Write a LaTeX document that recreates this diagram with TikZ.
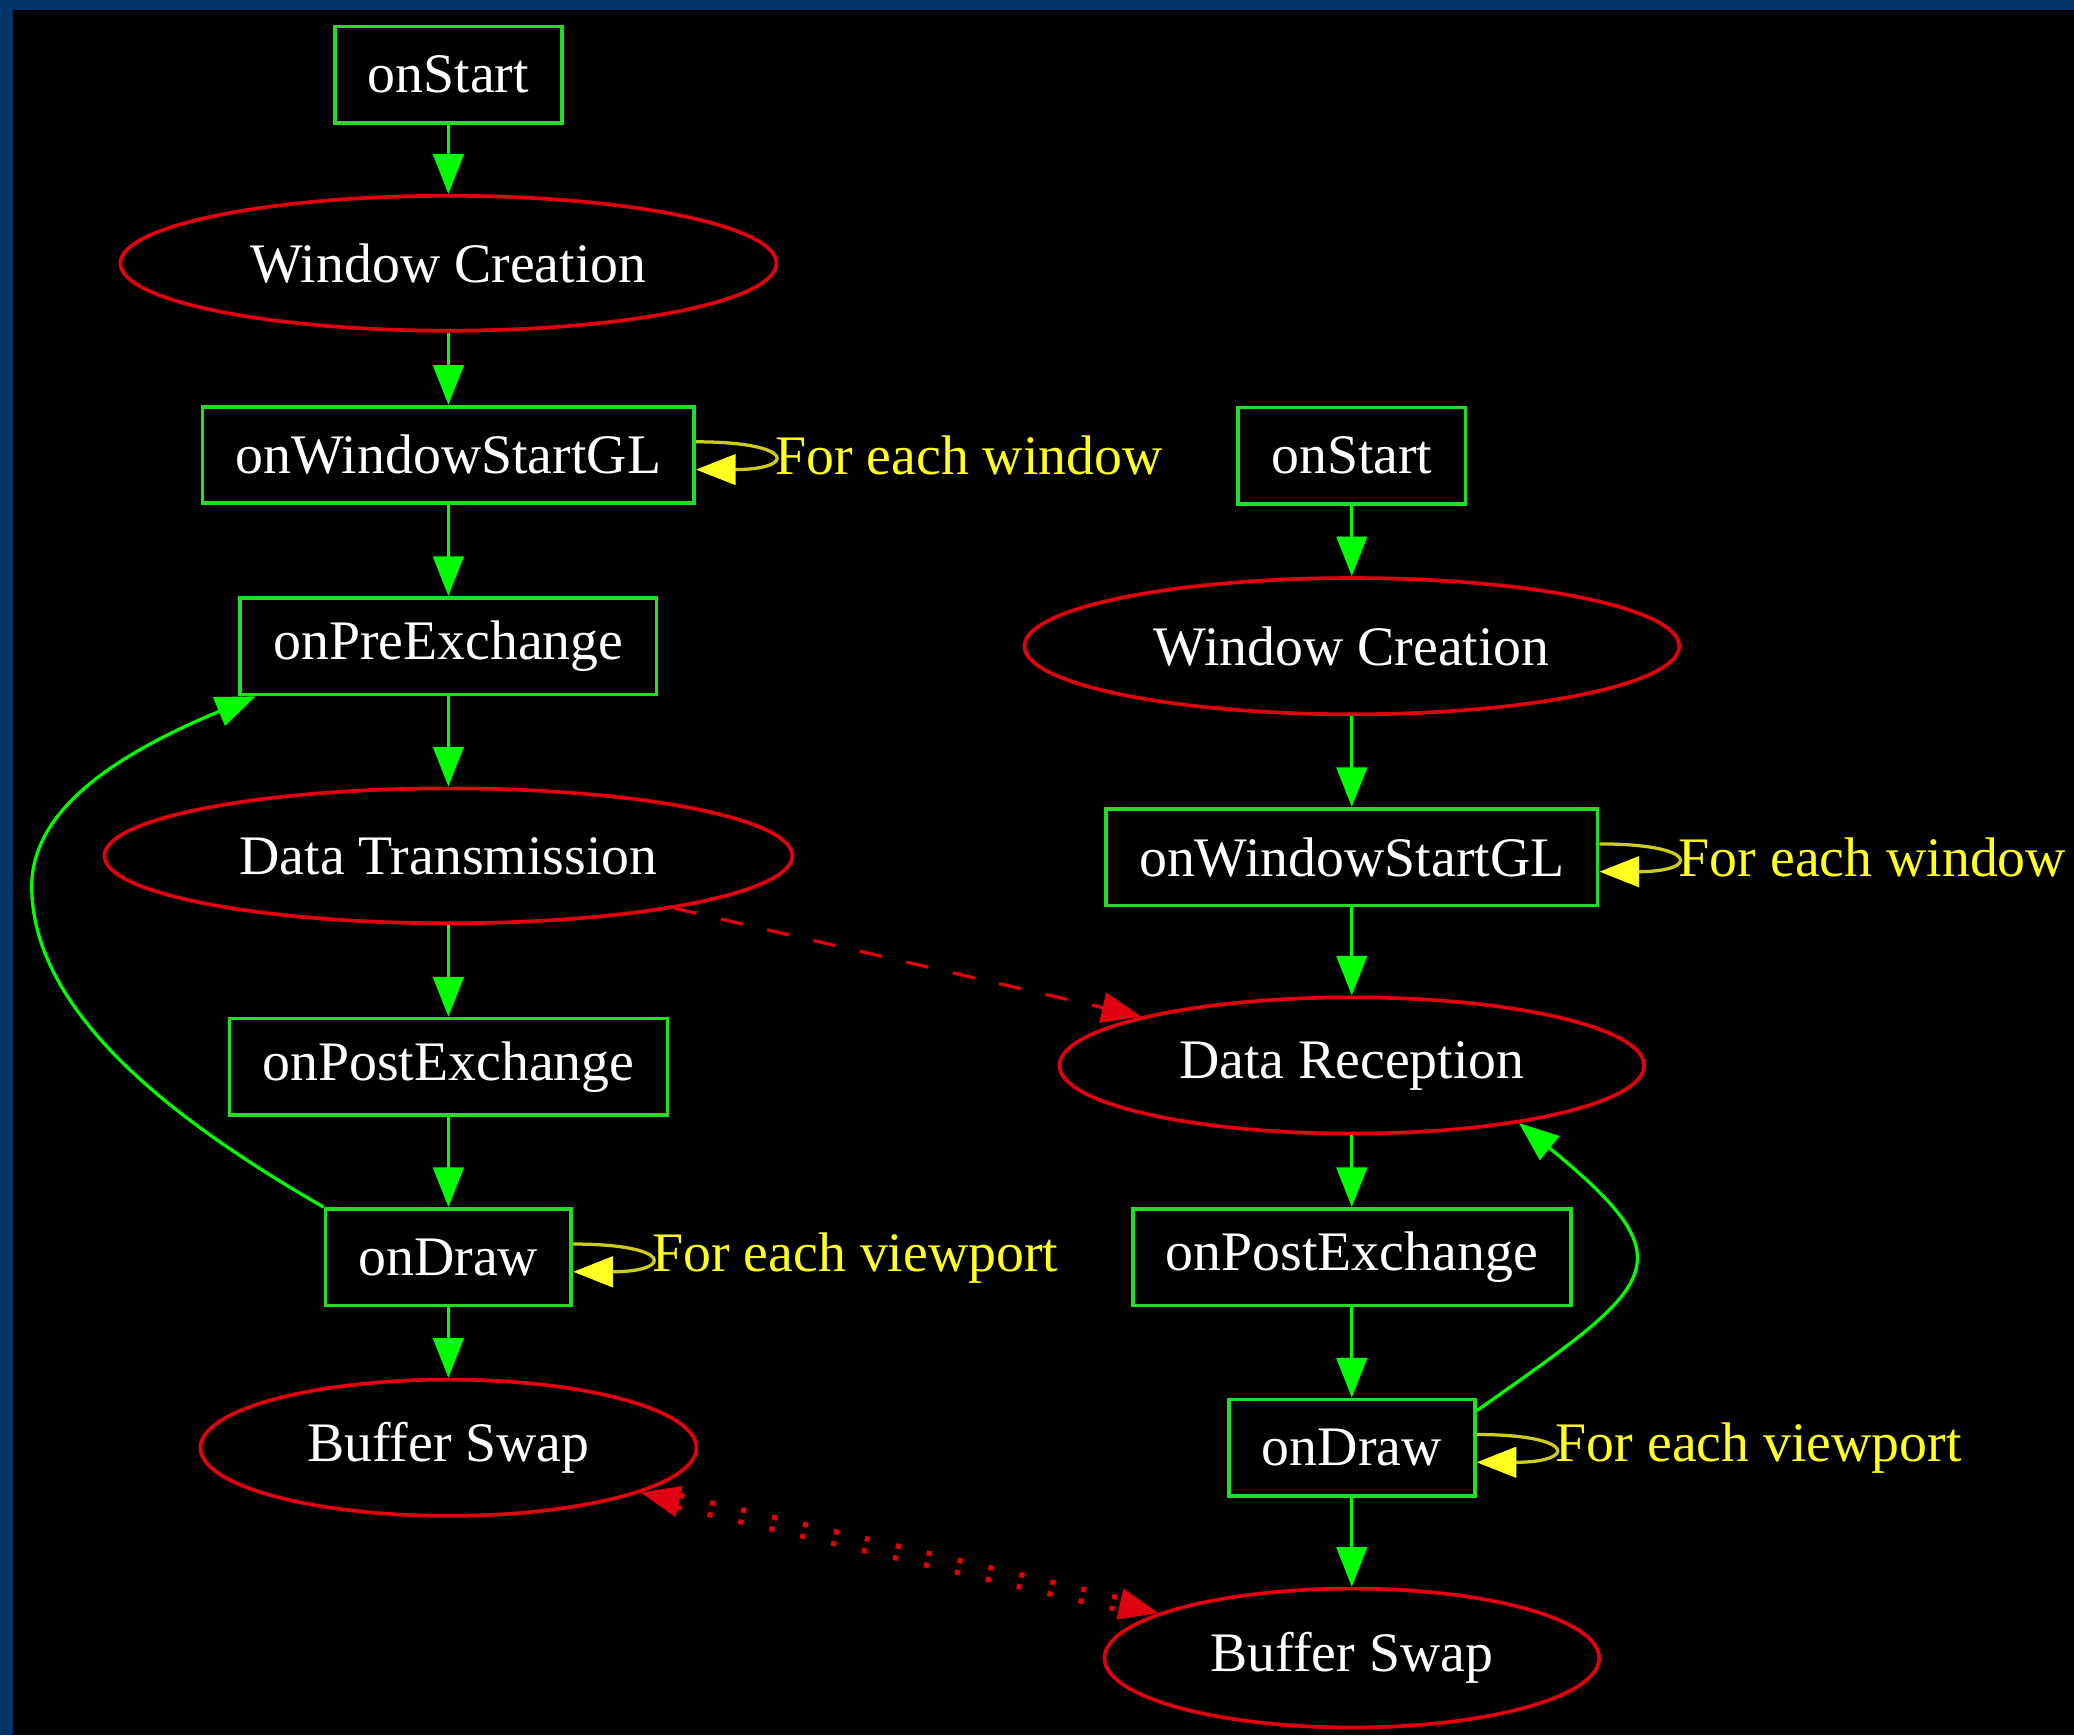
\documentclass[tikz,border=0pt]{standalone}
\usepackage{fontspec}
\setmainfont{Liberation Serif}
\usetikzlibrary{arrows.meta,shapes.geometric}
\definecolor{gvgreen}{HTML}{00FF00}
\definecolor{gvbox}{HTML}{22DD22}
\definecolor{gvred}{HTML}{E00010}
\definecolor{gvyellow}{HTML}{FFFF20}
\definecolor{gvframe}{HTML}{003366}

\begin{document}
\begin{tikzpicture}[
    font=\fontsize{12}{14}\selectfont,
    stage/.style={rectangle, draw=gvbox, line width=0.8pt, text=white, minimum height=0.73cm, inner xsep=0.25cm},
    phase/.style={ellipse, draw=gvred, line width=0.8pt, text=white, inner sep=0pt, minimum height=1.02cm},
    flow/.style={draw=gvgreen, line width=0.7pt, -{Triangle[length=0.3cm, width=0.23cm]}},
    selfloop/.style={draw=gvyellow!80!black, line width=0.7pt, -{Triangle[length=0.3cm, width=0.23cm, color=gvyellow]}},
    looplabel/.style={right, inner sep=0.5pt, text=gvyellow},
    sendedge/.style={draw=gvred, line width=0.7pt, dash pattern=on 0.17cm off 0.19cm, -{Triangle[length=0.3cm, width=0.23cm]}},
    swapedge/.style={draw=gvred, line width=0.04cm, double=black, double distance=0.05cm, dash pattern=on 0.04cm off 0.2cm, {Triangle[length=0.3cm, width=0.23cm]}-{Triangle[length=0.3cm, width=0.23cm]}}
]
    \useasboundingbox (0,0) rectangle (15.68,-13.12);
    \fill[gvframe] (0,0) rectangle (15.68,-13.12);
    \fill[black] (0.1,-0.076) rectangle (15.68,-13.12);

    % Master side
    \node[stage] (start1) at (3.39,-0.565) {onStart};
    \node[phase, minimum width=4.96cm] (wc1) at (3.39,-1.99) {Window Creation};
    \node[stage] (gl1) at (3.39,-3.44) {onWindowStartGL};
    \node[stage] (pre1) at (3.39,-4.885) {onPreExchange};
    \node[phase, minimum width=5.20cm] (dt) at (3.39,-6.47) {Data Transmission};
    \node[stage] (post1) at (3.39,-8.065) {onPostExchange};
    \node[stage] (draw1) at (3.39,-9.505) {onDraw};
    \node[phase, minimum width=3.75cm, minimum height=1.03cm] (bs1) at (3.39,-10.945) {Buffer Swap};

    % Slave side
    \node[stage] (start2) at (10.22,-3.445) {onStart};
    \node[phase, minimum width=4.95cm, minimum height=1.03cm] (wc2) at (10.22,-4.885) {Window Creation};
    \node[stage] (gl2) at (10.22,-6.48) {onWindowStartGL};
    \node[phase, minimum width=4.42cm, minimum height=1.03cm] (dr) at (10.22,-8.055) {Data Reception};
    \node[stage] (post2) at (10.22,-9.505) {onPostExchange};
    \node[stage] (draw2) at (10.22,-10.945) {onDraw};
    \node[phase, minimum width=3.74cm, minimum height=1.05cm] (bs2) at (10.22,-12.535) {Buffer Swap};

    % Frame steps, master
    \draw[flow] (start1) -- (wc1);
    \draw[flow] (wc1) -- (gl1);
    \draw[flow] (gl1) -- (pre1);
    \draw[flow] (pre1) -- (dt);
    \draw[flow] (dt) -- (post1);
    \draw[flow] (post1) -- (draw1);
    \draw[flow] (draw1) -- (bs1);

    % Frame steps, slave
    \draw[flow] (start2) -- (wc2);
    \draw[flow] (wc2) -- (gl2);
    \draw[flow] (gl2) -- (dr);
    \draw[flow] (dr) -- (post2);
    \draw[flow] (post2) -- (draw2);
    \draw[flow] (draw2) -- (bs2);

    % Next frame
    \coordinate (back1) at (0.24,-6.7);
    \draw[flow] (draw1.north west) .. controls (1.43,-8.54) and (0.24,-7.7) .. (back1)
        .. controls (0.24,-6.1) and (0.93,-5.68) .. ([xshift=0.13cm]pre1.south west);
    \draw[flow] ([yshift=-0.1cm]draw2.north east) .. controls (12.53,-9.70) and (12.79,-9.56) .. (dr.-19);

    % Per window / per viewport calls
    \draw[selfloop] ([yshift=0.1cm]gl1.east) .. controls +(0.76,0) and +(0.76,0) .. node[looplabel] {For each window} ([yshift=-0.11cm]gl1.east);
    \draw[selfloop] ([yshift=0.1cm]draw1.east) .. controls +(0.76,0) and +(0.76,0) .. node[looplabel] {For each viewport} ([yshift=-0.11cm]draw1.east);
    \draw[selfloop] ([yshift=0.1cm]gl2.east) .. controls +(0.76,0) and +(0.76,0) .. node[looplabel] {For each window} ([yshift=-0.11cm]gl2.east);
    \draw[selfloop] ([yshift=0.1cm]draw2.east) .. controls +(0.76,0) and +(0.76,0) .. node[looplabel] {For each viewport} ([yshift=-0.11cm]draw2.east);

    % Sync between nodes
    \draw[sendedge] (dt) -- (dr);
    \draw[swapedge] (bs1) -- (bs2);
\end{tikzpicture}
\end{document}
